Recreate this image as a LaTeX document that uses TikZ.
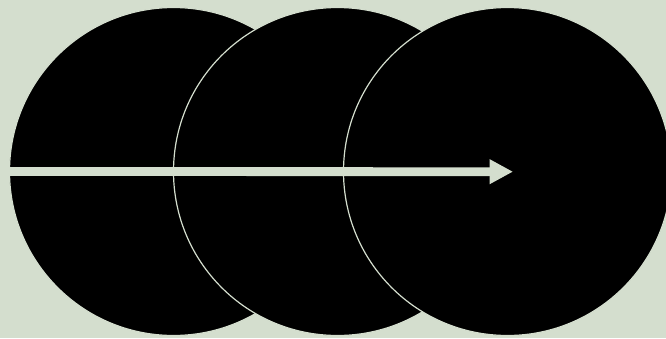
\documentclass[tikz,border=0pt]{standalone}
\usetikzlibrary{arrows.meta}
\definecolor{bgc}{RGB}{212,222,206}
\begin{document}
\begin{tikzpicture}[x=1pt,y=-1pt,
  disc/.style={circle,fill=black,draw=bgc,line width=1.2pt,minimum size=328pt,inner sep=0pt},
  flow/.style={draw=bgc,line width=8.8pt,-{Triangle[length=23.5pt,width=23.5pt]}}]
\fill[bgc] (0,0) rectangle (666,338);
\useasboundingbox (0,0) rectangle (666,338);
\begin{scope}
\clip (0,0) rectangle (666,338);
\node[disc] (c1) at (173.5,171.5) {};
\node[disc] (c2) at (337.5,171.5) {};
\node[disc] (c3) at (507.5,171.5) {};
\coordinate (tip) at (513,171.7);
\draw[flow] (c1.west) -- (tip);
\end{scope}
\end{tikzpicture}
\end{document}
